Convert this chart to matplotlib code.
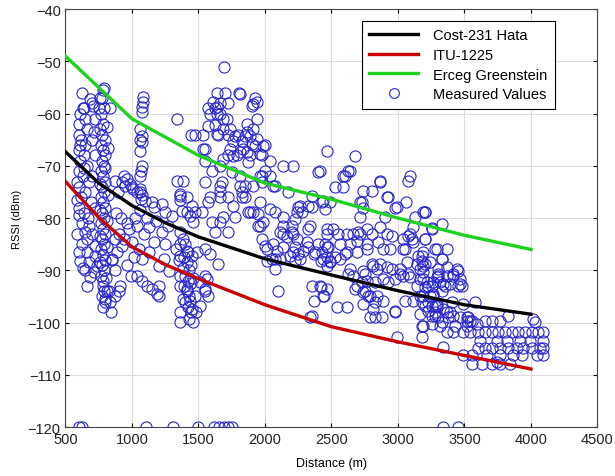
import matplotlib
matplotlib.use('Agg')
import matplotlib.pyplot as plt
import numpy as np

plt.rcParams['font.family'] = ['Liberation Sans', 'DejaVu Sans']

# model curves
model_dist = [500, 750, 1000, 1250, 1500, 2000, 2500, 3000, 3500, 4000]
hata_rssi = [-67.3, -73.3, -77.6, -80.9, -83.6, -87.8, -90.9, -93.9, -96.6, -98.4]
itu_rssi = [-73.0, -79.9, -85.5, -88.9, -91.6, -96.6, -100.8, -103.7, -106.3, -108.9]
erceg_dist = [500, 1000, 1500, 2000, 2500, 3000, 3500, 4000]
erceg_rssi = [-49.0, -61.0, -68.0, -73.3, -76.4, -80.0, -83.3, -86.0]

# measured values (distance m, rssi dBm), grouped by area of the plot
floor_pts = [(605, -120), (625, -120), (1105, -120), (1308, -120), (1496, -120),
             (1617, -120), (1654, -120), (1692, -120), (1722, -120), (1752, -120),
             (3340, -120), (3453, -120)]

near_600 = [(624, -56), (700, -58), (640, -59), (610, -60), (647, -61), (722, -61),
            (600, -62), (660, -63), (715, -63.5), (600, -64), (620, -65), (650, -66),
            (700, -65), (600, -67), (640, -68), (720, -68), (610, -69), (660, -70),
            (600, -71), (630, -72), (700, -72), (680, -73), (600, -74), (650, -75),
            (620, -76), (590, -76.5), (690, -77), (600, -78), (720, -78), (640, -79),
            (670, -80), (624, -81), (647, -82.6), (700, -83), (660, -84), (624, -85),
            (722, -85.3), (660, -86.5), (722, -87.2), (610, -88.2), (676, -88.4),
            (737, -89.1), (647, -90), (715, -90.3), (685, -91.2), (660, -93),
            (600, -79.5), (590, -83), (590, -73), (610, -66), (632, -59), (685, -57.2),
            (707, -58.5), (640, -70.5), (600, -86.5), (630, -89.5), (680, -81.5)]

strip_780 = [(790, -55), (775, -57), (760, -57), (790, -59), (750, -59), (835, -59),
             (770, -60), (785, -62), (812, -62.6), (760, -63), (775, -64), (795, -65),
             (770, -66), (820, -66.5), (785, -67), (800, -68), (775, -69), (790, -70),
             (800, -70.5), (765, -71), (785, -72), (800, -73), (760, -73.5), (775, -74),
             (790, -75), (820, -75.5), (770, -76), (785, -77), (800, -78), (760, -78.5),
             (775, -79), (790, -80), (810, -80.5), (765, -81), (785, -82), (800, -83),
             (760, -83.5), (775, -84), (790, -85), (810, -85.5), (770, -86), (785, -87),
             (800, -88), (760, -88.5), (850, -88), (775, -89), (790, -90), (770, -91),
             (805, -91.5), (785, -92), (780, -93), (790, -94), (812, -94), (830, -94),
             (775, -95), (797, -95.4), (795, -96), (835, -96), (780, -97), (842, -98),
             (872, -95), (902, -94), (910, -93), (782, -55.5)]

mid_1000 = [(872, -72.9), (940, -72), (948, -73.8), (1000, -74), (1038, -75),
            (1098, -76.7), (1150, -77), (1165, -77.9), (1226, -77.3), (1248, -78.8),
            (1300, -79.6), (872, -84), (925, -85.3), (888, -86.5), (850, -87.8),
            (1000, -84.5), (1052, -85.9), (1015, -87.4), (1075, -87.8), (1128, -86.5),
            (1165, -84.5), (1090, -83), (1038, -81.5), (1128, -81.7), (1226, -82.6),
            (1248, -84.9), (1240, -87.8), (1203, -89.1), (1278, -90.1), (1038, -91),
            (1075, -92), (1113, -93), (1150, -93.5), (1203, -93), (1188, -94.5),
            (1203, -95), (962, -72.5), (925, -73), (985, -73.5), (1008, -74.4),
            (1060, -75), (895, -75), (880, -79), (920, -80), (960, -81), (900, -83),
            (940, -84), (980, -82), (1020, -80), (1060, -78.5), (1110, -80),
            (1180, -80.5), (1270, -81.5), (960, -89), (990, -91), (870, -90)]

column_1075 = [(1083, -56.8), (1083, -57.8), (1075, -58.7), (1075, -59.7), (1060, -63),
               (1075, -64.3), (1060, -65), (1075, -65.5), (1060, -67.2), (1075, -70),
               (1070, -71), (1060, -72), (1060, -74.5), (1075, -75.5), (1068, -76.3)]

low_1400 = [(1338, -61), (1440, -64), (1361, -75.8), (1414, -76), (1376, -78.6),
            (1451, -77.7), (1436, -79.6), (1361, -75.3), (1414, -78.8), (1474, -78.8),
            (1459, -80.7), (1361, -82.6), (1361, -85), (1414, -86.3), (1361, -87.2),
            (1451, -87.2), (1489, -86.5), (1549, -85.9), (1587, -86.8), (1549, -91),
            (1511, -92.2), (1549, -93.5), (1474, -94.9), (1361, -93), (1414, -93.5),
            (1436, -95.8), (1511, -96.8), (1361, -98), (1459, -99.8), (1361, -99.8),
            (1430, -99.3), (1380, -84), (1400, -85), (1420, -86.5), (1390, -87.5),
            (1410, -88.5), (1380, -89.5), (1430, -90), (1400, -91), (1420, -92),
            (1390, -93), (1410, -94), (1430, -95), (1400, -96), (1420, -97),
            (1380, -95.5), (1440, -92.5), (1350, -88), (1330, -86), (1360, -91),
            (1450, -97.5), (1440, -89), (1460, -91.5), (1564, -91.6), (1549, -94),
            (1572, -95), (1480, -98), (1440, -98), (1384, -72.9), (1338, -72.9),
            (1361, -76.5)]

high_1700 = [(1692, -51), (1639, -56), (1699, -56), (1804, -56), (1812, -56.3),
             (1925, -57), (1910, -58.2), (1610, -57.8), (1662, -58), (1722, -58),
             (1940, -57.8), (1902, -58.5), (1639, -58.7), (1572, -59), (1624, -59),
             (1587, -60), (1662, -60), (1639, -60), (1714, -61), (1940, -61),
             (1684, -61), (1865, -62), (1910, -63), (1572, -62.3), (1624, -62.2),
             (1684, -63), (1737, -63), (1865, -63.5), (1474, -64), (1535, -64),
             (1647, -64), (1722, -64), (1797, -64), (1850, -64.3), (1775, -64.3),
             (1639, -63.9), (1887, -64.3), (1760, -65.2), (1827, -65.2), (1902, -65.8),
             (1940, -64.9), (2000, -66), (1985, -66.2), (1535, -66.8), (1737, -66.8),
             (1835, -66.8), (1865, -67.3), (1925, -66.2), (1812, -67.3), (1963, -67.7),
             (1722, -68), (1790, -68), (1888, -68), (1978, -68), (1760, -68.1),
             (1684, -68.7), (2038, -69), (1549, -69), (1662, -70), (1872, -69.3),
             (1602, -71), (1752, -71.2), (1812, -71.9), (1963, -71.9), (2000, -71),
             (1549, -73), (1677, -73.1), (1662, -73.8), (1812, -73.8), (1850, -73.8),
             (1910, -73.8), (1978, -73.1), (1978, -72), (2038, -71.9), (2075, -73.8),
             (2173, -75), (1587, -76), (1662, -76), (1722, -76), (1827, -76),
             (1850, -76), (1572, -77), (1527, -78.8), (1662, -74.8), (1760, -77.7),
             (1827, -75), (1662, -80.7), (1602, -80.7), (1624, -82.6), (1722, -82.6),
             (1684, -79.8), (1775, -79.8), (1647, -88.8), (2135, -70), (2210, -70),
             (1549, -66.8)]

mid_2200 = [(1872, -78.8), (1963, -77), (1963, -81.5), (1985, -80.7), (1978, -84),
            (2000, -85.3), (2015, -85.9), (1948, -79.2), (2038, -78.2), (2015, -88.2),
            (2075, -87.8), (2075, -89.7), (2113, -87.8), (2098, -93.9), (2075, -78.8),
            (2135, -79.8), (2113, -82.6), (2135, -81.5), (2165, -83.6), (2203, -82.6),
            (2240, -84), (2225, -85.5), (2248, -86.8), (2188, -87.2), (2225, -88.2),
            (2286, -86.3), (2323, -85.5), (2323, -82), (2316, -84.5), (2240, -78.8),
            (2225, -80.2), (2353, -77.9), (2248, -77.9), (2368, -86.8), (2421, -88.2),
            (2466, -89.1), (2451, -85), (2428, -86.5), (2353, -93), (2421, -93.2),
            (2443, -94.9), (2368, -95.8), (2353, -98.7), (2466, -82), (2466, -85.5),
            (2353, -75.8), (2323, -77.7), (2060, -85), (2090, -86.3), (2135, -85.5),
            (2210, -86.5), (2263, -87.8), (2053, -87.8), (2376, -86.5), (2398, -85),
            (2466, -87.4), (2489, -88.2), (1910, -78.8), (1948, -81.5), (1887, -78.8),
            (2263, -77.7), (2278, -78.8), (2203, -81.5), (2210, -83), (2135, -83),
            (2338, -81.5), (2466, -83), (2338, -98.9), (2060, -73.8), (2428, -76.9),
            (2489, -76.9), (2400, -71.2)]

mid_2800 = [(2466, -67.2), (2677, -68.1), (2413, -71), (2639, -71), (2602, -72),
            (2527, -74), (2587, -74), (2865, -72.9), (3091, -71.9), (3076, -72.9),
            (2737, -74.8), (2805, -74.8), (2925, -76), (3061, -76.9), (2715, -76.9),
            (2737, -78), (2978, -78), (2436, -76.7), (2451, -78.2), (2715, -79.8),
            (2903, -79.8), (3129, -79.8), (3204, -78.8), (3257, -81.9), (3114, -81.7),
            (3091, -83), (3106, -84), (3204, -84), (2511, -82), (2549, -83),
            (2617, -83), (2662, -83), (2715, -83), (2767, -82), (2805, -83),
            (2865, -81.7), (2918, -83), (2474, -85.5), (2564, -85), (2639, -85),
            (2692, -84.4), (2767, -85), (2850, -84.6), (3038, -84), (3076, -83.4),
            (3114, -84.6), (2436, -87.8), (2527, -87.4), (2602, -86.8), (2692, -86.5),
            (2767, -85.9), (2888, -85.9), (2940, -85.9), (3053, -85.9), (3294, -85.9),
            (3369, -85.9), (3151, -87.2), (3181, -88.2), (3144, -88.8), (3189, -89.1),
            (3166, -89.7), (3331, -87.8), (3369, -89.3), (3301, -89.7), (2805, -88.8),
            (2865, -88.8), (2955, -89.7), (3015, -90.7), (3076, -90.7), (2564, -87.8),
            (2489, -88.4), (2624, -90.7), (2662, -91), (2737, -90.1), (2767, -92),
            (2827, -92.2), (2978, -91.6), (3038, -91), (3444, -89.7), (3414, -91),
            (3467, -92.6), (3301, -91), (3339, -92.6), (3166, -91.6), (3219, -92.2),
            (2413, -93), (2466, -93.5), (2436, -94.9), (2677, -93.5), (2737, -94.1),
            (2790, -95), (2827, -96), (2888, -95.8), (2813, -97.4), (2737, -96.4),
            (3053, -95.8), (3114, -95.8), (3181, -96), (3241, -94.9), (3279, -96.8),
            (3339, -97.4), (3407, -96), (3489, -96.4), (3580, -96), (3467, -98.9),
            (3519, -98.9), (3557, -99.7), (3595, -100.2), (2978, -97.7), (2790, -98.9),
            (2827, -98.9), (2880, -98.9), (2541, -97), (2617, -97), (3226, -97.7),
            (3331, -99.8), (3376, -98.9), (2699, -82.6), (2955, -83.4), (3331, -81.1),
            (2617, -86.5), (2639, -89.7), (2692, -93), (2730, -92.2), (2752, -93.9),
            (2775, -95), (2842, -94.9), (2888, -91.6), (2925, -92.2), (2752, -90.7),
            (2813, -89.1), (2842, -89.7), (2918, -89.3), (3015, -89.7), (3068, -88.4),
            (3091, -91.2), (3144, -93), (3189, -90.3), (3226, -93), (3241, -88.4),
            (3294, -91.2), (3189, -86.5), (3038, -85.9), (3264, -94.5), (3331, -93.9),
            (3189, -95), (3257, -96.8), (3294, -96.4), (3166, -98.3), (3279, -98.7),
            (3189, -100.6), (3316, -100.6), (3369, -101.8), (2978, -98), (2993, -102.7),
            (3181, -102.7), (3339, -104.6), (2865, -73), (2918, -76), (2993, -77.9),
            (2730, -76.9), (3189, -78.8), (2587, -72), (2624, -71)]

right_3400 = [(3204, -78.8), (3257, -82), (3204, -84), (3279, -85.9), (3331, -87.8),
              (3181, -87.2), (3204, -88.8), (3301, -90.7), (3369, -91), (3414, -90.7),
              (3452, -90.1), (3467, -91.6), (3482, -93), (3354, -93), (3264, -92.2),
              (3189, -91.6), (3204, -93.2), (3264, -94.9), (3204, -96.8), (3279, -98),
              (3369, -98), (3527, -98.9), (3828, -98.7), (4016, -99.3), (3257, -93),
              (3316, -92.2), (3392, -92.6), (3452, -93), (3166, -95), (3226, -96),
              (3294, -96.8), (3257, -98.7), (3302, -98.9), (3181, -100.6), (3257, -100.2),
              (3392, -98), (3414, -98.7), (3429, -100.6), (3519, -100.6)]

far_3800 = [(3519, -99.7), (3542, -99.7), (3655, -99.7), (3707, -99.7), (3767, -99.7),
            (4031, -99.9), (3414, -101.8), (3489, -101.8), (3542, -101.8), (3602, -101.8),
            (3655, -101.8), (3707, -101.8), (3752, -101.8), (3805, -101.8), (3858, -101.8),
            (3903, -101.8), (3956, -101.8), (4008, -101.8), (4053, -101.8), (4091, -101.8),
            (3617, -103.5), (3745, -103.5), (3820, -103.5), (3918, -103.5), (3993, -103.5),
            (4091, -103.5), (3602, -104.8), (3655, -104.8), (3707, -104.8), (3767, -104.8),
            (3828, -104.8), (3896, -104.8), (3941, -104.8), (4008, -104.8), (4068, -104.8),
            (4091, -104.8), (3489, -106.3), (3557, -106.3), (3670, -106.3), (3767, -106.3),
            (3865, -106.3), (3933, -106.3), (4046, -106.3), (4091, -106.3), (3745, -107.5),
            (3557, -107.9), (3632, -107.9), (3707, -107.9), (3767, -107.9), (3843, -107.9)]

measured = np.array(floor_pts + near_600 + strip_780 + mid_1000 + column_1075 +
                    low_1400 + high_1700 + mid_2200 + mid_2800 + right_3400 + far_3800)

fig = plt.figure(figsize=(6.15, 4.77), dpi=100)
ax = fig.add_axes([0.1065, 0.1027, 0.865, 0.876])

ax.plot(model_dist, hata_rssi, color='black', linewidth=2.4, label='Cost-231 Hata', zorder=4)
ax.plot(model_dist, itu_rssi, color='#c80000', linewidth=2.4, label='ITU-1225', zorder=4)
ax.plot(erceg_dist, erceg_rssi, color='#1ed21e', linewidth=2.4, label='Erceg Greenstein', zorder=4)
ax.plot(measured[:, 0], measured[:, 1], linestyle='none', marker='o', markersize=8,
        markerfacecolor='none', markeredgecolor='#2626cc', markeredgewidth=0.8,
        label='Measured Values', zorder=3)

ax.set_xlim(500, 4500)
ax.set_ylim(-120, -40)
ax.set_xticks(np.arange(500, 4501, 500))
ax.set_yticks(np.arange(-120, -39, 10))
ax.tick_params(direction='in', labelsize=10.5, length=3, top=True, right=True,
               labeltop=False, labelright=False, labelcolor='#222222')
ax.grid(True, color='#dddddd', linewidth=0.8)
ax.set_axisbelow(True)
for s in ax.spines.values():
    s.set_color('#444444')
    s.set_linewidth(0.8)

ax.set_xlabel('Distance (m)', fontsize=9, labelpad=8)
ax.set_ylabel('RSSI (dBm)', fontsize=8, labelpad=4)

leg = ax.legend(loc='upper right', bbox_to_anchor=(0.933, 0.99), fontsize=10.5,
                handlelength=3.4, fancybox=False, framealpha=1, edgecolor='black',
                borderpad=0.5, labelspacing=0.4, handletextpad=1.0)
leg.get_frame().set_linewidth(0.8)
leg.legend_handles[3].set_markersize(7)

fig.savefig('out.png', dpi=100)
